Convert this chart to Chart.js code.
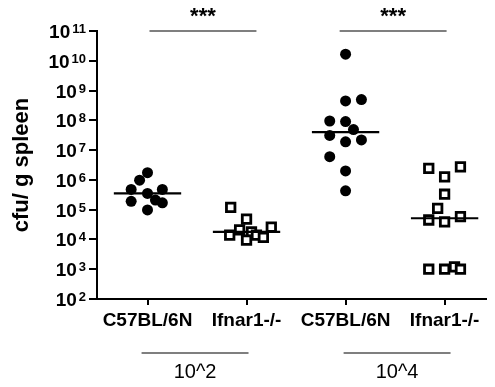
<!DOCTYPE html>
<html>
<head>
<meta charset="utf-8">
<script src="https://cdn.jsdelivr.net/npm/chart.js@4/dist/chart.umd.min.js"></script>
<style>
    html, body { margin: 0; padding: 0; background: #fff; }
</style>
</head>
<body>
<canvas id="spleen-chart" width="495" height="387"></canvas>
<script>
var groups = ['C57BL/6N', 'Ifnar1-/-', 'C57BL/6N', 'Ifnar1-/-'];
var doses = ['10^2', '10^4'];
var yExponents = [2, 3, 4, 5, 6, 7, 8, 9, 10, 11];
var stars = ['***', '***'];

// cfu per g spleen
var wtLow = [1.74e6, 9.8e5, 4.8e5, 3.5e5, 4.8e5, 1.9e5, 2.1e5, 1.7e5, 9.8e4];
var koLow = [1.2e5, 4.8e4, 2.6e4, 1.4e4, 2.1e4, 1.8e4, 1.4e4, 9.5e3, 1.17e4];
var wtHigh = [1.66e10, 4.5e8, 5.0e8, 9.5e7, 9.1e7, 4.9e7, 3.1e7, 1.9e7, 2.2e7, 6.0e6, 2.0e6, 4.3e5];
var koHigh = [2.45e6, 1.26e6, 2.75e6, 3.3e5, 1.1e5, 4.5e4, 3.9e4, 5.8e4, 1e3, 1e3, 1.2e3, 1e3];

// horizontal scatter of the dots inside each column
var wtLowJitter = [0, -0.08, -0.165, 0, 0.15, -0.165, 0.08, 0.15, 0];
var koLowJitter = [-0.16, 0, 0.25, -0.17, -0.07, 0.05, 0.10, 0, 0.17];
var wtHighJitter = [0, 0, 0.16, -0.16, 0, 0.08, -0.16, 0, 0.16, -0.16, 0, 0];
var koHighJitter = [-0.16, 0, 0.16, 0, -0.07, -0.16, 0, 0.16, -0.16, 0, 0.10, 0.16];

var FONT = "'Liberation Sans', Arial, sans-serif";

function median(vals) {
    var s = vals.slice().sort(function (a, b) { return a - b; });
    var m = Math.floor(s.length / 2);
    return s.length % 2 ? s[m] : (s[m - 1] + s[m]) / 2;
}

function dots(vals, jitter, col) {
    return vals.map(function (v, i) { return { x: col + jitter[i], y: v }; });
}

function medianLine(vals, col) {
    var m = median(vals);
    return {
        type: 'line',
        data: [{ x: col - 0.34, y: m }, { x: col + 0.34, y: m }],
        borderColor: '#000',
        borderWidth: 2.2,
        pointRadius: 0,
        order: -1
    };
}

function circles(vals, jitter, col) {
    return {
        data: dots(vals, jitter, col),
        pointStyle: 'circle',
        pointRadius: 5.5,
        backgroundColor: '#000',
        borderColor: '#000',
        borderWidth: 0
    };
}

function squares(vals, jitter, col) {
    return {
        data: dots(vals, jitter, col),
        pointStyle: 'rect',
        pointRadius: 6,
        backgroundColor: '#fff',
        borderColor: '#000',
        borderWidth: 2.8
    };
}

var annotate = {
    id: 'annotate',
    afterDraw: function (chart) {
        var ctx = chart.ctx;
        var xs = chart.scales.x;
        var ys = chart.scales.y;
        ctx.save();
        ctx.fillStyle = '#000';
        ctx.strokeStyle = '#000';

        // y tick labels as 10 with superscript exponent
        yExponents.forEach(function (p) {
            var y = ys.getPixelForValue(Math.pow(10, p));
            var right = 86;
            ctx.font = 'bold 13px ' + FONT;
            ctx.textAlign = 'right';
            ctx.textBaseline = 'alphabetic';
            var ew = ctx.measureText(String(p)).width;
            ctx.fillText(String(p), right, y + 2);
            ctx.font = 'bold 19px ' + FONT;
            ctx.fillText('10', right - ew - 2, y + 7);
        });

        // significance bars
        var topY = ys.getPixelForValue(1e11);
        ctx.lineWidth = 1.2;
        [[1.02, 2.1], [2.94, 4.02]].forEach(function (seg, i) {
            var a = xs.getPixelForValue(seg[0]);
            var b = xs.getPixelForValue(seg[1]);
            ctx.beginPath();
            ctx.moveTo(a, topY);
            ctx.lineTo(b, topY);
            ctx.stroke();
            ctx.font = 'bold 22px ' + FONT;
            ctx.textAlign = 'center';
            ctx.textBaseline = 'middle';
            ctx.fillText(stars[i], (a + b) / 2, 17);
        });

        // dose groups under the x axis
        [[0.94, 2.02], [2.98, 4.06]].forEach(function (seg, i) {
            var a = xs.getPixelForValue(seg[0]);
            var b = xs.getPixelForValue(seg[1]);
            ctx.beginPath();
            ctx.moveTo(a, 353);
            ctx.lineTo(b, 353);
            ctx.stroke();
            ctx.font = '20px ' + FONT;
            ctx.textAlign = 'center';
            ctx.textBaseline = 'middle';
            ctx.fillText(doses[i], (a + b) / 2, 372);
        });
        ctx.restore();
    }
};

const ctx = document.getElementById('spleen-chart');

const config = {
    type: 'scatter',
    data: {
        datasets: [
            medianLine(wtLow, 1),
            medianLine(koLow, 2),
            medianLine(wtHigh, 3),
            medianLine(koHigh, 4),
            circles(wtLow, wtLowJitter, 1),
            squares(koLow, koLowJitter, 2),
            circles(wtHigh, wtHighJitter, 3),
            squares(koHigh, koHighJitter, 4)
        ]
    },
    options: {
        responsive: false,
        animation: false,
        devicePixelRatio: 1,
        layout: {
            padding: { top: 31, right: 3, left: 0, bottom: 0 }
        },
        plugins: {
            legend: { display: false },
            tooltip: { enabled: false }
        },
        scales: {
            x: {
                type: 'linear',
                min: 0.49,
                max: 4.42,
                afterBuildTicks: function (s) {
                    s.ticks = groups.map(function (g, i) { return { value: i + 1 }; });
                },
                afterFit: function (s) { s.height = 88; },
                ticks: {
                    autoSkip: false,
                    maxRotation: 0,
                    padding: 4,
                    color: '#000',
                    font: { family: FONT, size: 19, weight: 'bold' },
                    callback: function (v) { return groups[v - 1]; }
                },
                grid: {
                    drawOnChartArea: false,
                    tickLength: 6,
                    color: '#000',
                    lineWidth: 2
                },
                border: { color: '#000', width: 2 }
            },
            y: {
                type: 'logarithmic',
                min: 1e2,
                max: 1e11,
                afterBuildTicks: function (s) {
                    s.ticks = yExponents.map(function (p) { return { value: Math.pow(10, p) }; });
                },
                afterFit: function (s) { s.width = 97; },
                ticks: { display: false },
                grid: {
                    drawOnChartArea: false,
                    tickLength: 8,
                    color: '#000',
                    lineWidth: 2
                },
                border: { color: '#000', width: 2 },
                title: {
                    display: true,
                    text: 'cfu/ g spleen',
                    color: '#000',
                    font: { family: FONT, size: 22, weight: 'bold' },
                    padding: { top: 9 }
                }
            }
        }
    },
    plugins: [annotate]
};

new Chart(ctx, config);
</script>
</body>
</html>
